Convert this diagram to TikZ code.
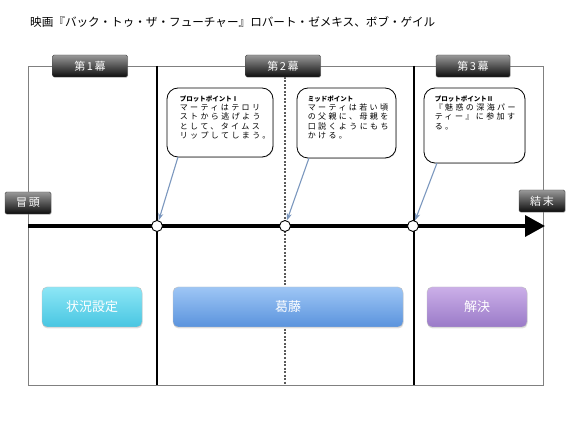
\documentclass[tikz,border=0pt]{standalone}
\usepackage{fontspec}
\setmainfont{Noto Sans CJK JP}
\newfontfamily\jp{Noto Sans CJK JP}
\newfontfamily\jpsp[LetterSpace=30]{Noto Sans CJK JP}
\newfontfamily\jplab[LetterSpace=15]{Noto Sans CJK JP}
\usetikzlibrary{arrows.meta,shadows}
\definecolor{cyanA}{HTML}{8DE6F6}
\definecolor{cyanB}{HTML}{48C6E2}
\definecolor{blueA}{HTML}{9EC6F5}
\definecolor{blueB}{HTML}{5A93DD}
\definecolor{purpA}{HTML}{CBAFE8}
\definecolor{purpB}{HTML}{9A7AC8}
\definecolor{callblue}{HTML}{7B97BE}
\newcommand{\chead}[1]{{\jp\bfseries\fontsize{6.5}{9.2}\selectfont #1}}
\begin{document}
\begin{tikzpicture}[x=1pt,y=-1pt,
  frameline/.style={draw=black!50, line width=0.9pt},
  actline/.style={draw=black, line width=1.2pt},
  midline/.style={draw=black!65, line width=1.2pt, dash pattern=on 2pt off 1.5pt},
  darklabel/.style={rounded corners=1.5pt, top color=black!40, bottom color=black!95,
    draw=black!70, line width=0.4pt, text=white, inner sep=0pt,
    minimum height=22pt, font=\jplab\fontsize{11}{11}\selectfont,
    drop shadow={opacity=0.3, shadow xshift=0.6pt, shadow yshift=-0.8pt}},
  pointdot/.style={circle, draw=black, line width=0.9pt, fill=white, minimum size=11pt, inner sep=0pt},
  callbox/.style={draw=black, line width=0.8pt, fill=white, rounded corners=11pt,
    drop shadow={opacity=0.2, shadow xshift=0.8pt, shadow yshift=-0.8pt}},
  calltext/.style={anchor=north west, inner sep=0pt, align=left,
    font=\jpsp\fontsize{8}{9.2}\selectfont},
  callarrow/.style={draw=callblue, line width=1.1pt, -{Stealth[length=7pt,width=5pt,inset=2pt]}},
  bar/.style={rounded corners=5pt, draw=black!25, line width=0.4pt, text=white,
    minimum height=40pt, inner sep=0pt, font=\jp\fontsize{13}{13}\selectfont,
    drop shadow={opacity=0.25, shadow xshift=0.5pt, shadow yshift=-1.5pt}}
]
\useasboundingbox (0,0) rectangle (570,427);

% title
\node[anchor=west, inner sep=0pt, font=\jp\fontsize{11.6}{12}\selectfont] (title) at (30,22)
  {映画『バック・トゥ・ザ・フューチャー』ロバート・ゼメキス、ボブ・ゲイル};

% frame and dividers
\draw[frameline] (28,66) rectangle (543,385);
\draw[actline] (157,66) -- (157,385);
\draw[actline] (414,66) -- (414,385);
\draw[midline] (285,77) -- (285,385);

% time axis
\coordinate (axs) at (28,226);
\coordinate (axe) at (545,226);
\draw[line width=3.5pt, -{Triangle[length=20pt,width=21pt]}] (axs) -- (axe);

\node[pointdot] (p1) at (157,226) {};
\node[pointdot] (p2) at (285,226) {};
\node[pointdot] (p3) at (413,226) {};

% act labels
\node[darklabel, minimum width=75pt] (act1) at (90,66) {第1幕};
\node[darklabel, minimum width=75pt] (act2) at (283,66) {第2幕};
\node[darklabel, minimum width=74pt] (act3) at (473,66) {第3幕};
\node[darklabel, minimum width=46pt] (start) at (28,203) {冒頭};
\node[darklabel, minimum width=46pt] (end) at (542,201) {結末};

% callouts
\node[callbox, minimum width=106pt, minimum height=69pt] (c1) at (220,122.5) {};
\node[callbox, minimum width=99pt, minimum height=70pt] (c2) at (346.5,123) {};
\node[callbox, minimum width=101pt, minimum height=75pt] (c3) at (474.5,125.5) {};

\node[calltext] (t1) at ([xshift=13pt,yshift=-8pt]c1.north west)
  {\chead{プロットポイントⅠ}\\マーティはテロリ\\ストから逃げよう\\として、タイムス\\リップしてしまう。};
\node[calltext] (t2) at ([xshift=11pt,yshift=-8pt]c2.north west)
  {\chead{ミッドポイント}\\マーティは若い頃\\の父親に、母親を\\口説くようにもち\\かける。};
\node[calltext] (t3) at ([xshift=11pt,yshift=-8pt]c3.north west)
  {\chead{プロットポイントⅡ}\\『魅惑の深海パー\\ティー』に参加す\\る。};

\coordinate (a1) at (178,157);
\coordinate (a2) at (309,158);
\coordinate (a3) at (437,163);
\draw[callarrow] (a1) -- (p1);
\draw[callarrow] (a2) -- (p2);
\draw[callarrow] (a3) -- (p3);

% phase bars
\node[bar, top color=cyanA, bottom color=cyanB, minimum width=100pt] (b1) at (92,307) {状況設定};
\node[bar, top color=blueA, bottom color=blueB, minimum width=230pt] (b2) at (288,307) {葛藤};
\node[bar, top color=purpA, bottom color=purpB, minimum width=100pt] (b3) at (477,307) {解決};
\end{tikzpicture}
\end{document}
